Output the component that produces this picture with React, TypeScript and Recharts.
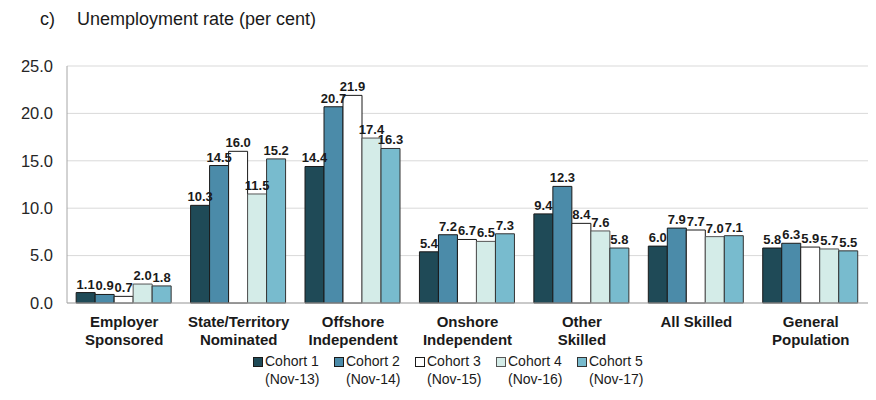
import React from "react";
import { BarChart, Bar, XAxis, YAxis, CartesianGrid, LabelList } from "recharts";

// Unemployment rate (per cent) by visa stream, five cohorts.
const CATEGORIES = [
  "Employer\nSponsored",
  "State/Territory\nNominated",
  "Offshore\nIndependent",
  "Onshore\nIndependent",
  "Other\nSkilled",
  "All Skilled",
  "General\nPopulation",
];

const COHORT_1 = [1.1, 10.3, 14.4, 5.4, 9.4, 6.0, 5.8];
const COHORT_2 = [0.9, 14.5, 20.7, 7.2, 12.3, 7.9, 6.3];
const COHORT_3 = [0.7, 16.0, 21.9, 6.7, 8.4, 7.7, 5.9];
const COHORT_4 = [2.0, 11.5, 17.4, 6.5, 7.6, 7.0, 5.7];
const COHORT_5 = [1.8, 15.2, 16.3, 7.3, 5.8, 7.1, 5.5];

const Y_TICKS = [0, 5, 10, 15, 20, 25];

const SERIES = [
  { key: "c1", name: "Cohort 1", sub: "(Nov-13)", values: COHORT_1, fill: "#1f4a57", stroke: "#1a1a1a" },
  { key: "c2", name: "Cohort 2", sub: "(Nov-14)", values: COHORT_2, fill: "#4b8ba9", stroke: "#1a1a1a" },
  { key: "c3", name: "Cohort 3", sub: "(Nov-15)", values: COHORT_3, fill: "#ffffff", stroke: "#1a1a1a" },
  { key: "c4", name: "Cohort 4", sub: "(Nov-16)", values: COHORT_4, fill: "#d4ece8", stroke: "#555555" },
  { key: "c5", name: "Cohort 5", sub: "(Nov-17)", values: COHORT_5, fill: "#78bbce", stroke: "#333333" },
];

const data = CATEGORIES.map((cat, i) => {
  const row: Record<string, string | number> = { cat };
  for (const s of SERIES) row[s.key] = s.values[i];
  return row;
});

const FONT = "'Liberation Sans', Arial, sans-serif";

function CategoryTick(props: any) {
  const { x, y, payload } = props;
  const lines = String(payload.value).split("\n");
  return (
    <text
      x={x}
      y={y}
      textAnchor="middle"
      fontFamily={FONT}
      fontSize={15}
      fontWeight={700}
      fill="#1a1a1a"
    >
      {lines.map((ln, i) => (
        <tspan key={i} x={x} dy={i === 0 ? 16 : 18}>
          {ln}
        </tspan>
      ))}
    </text>
  );
}

export default function App() {
  return (
    <div
      style={{
        position: "fixed",
        left: 0,
        top: 0,
        width: 876,
        height: 400,
        background: "#fff",
        fontFamily: FONT,
      }}
    >
      <div style={{ position: "absolute", left: 40, top: 9, fontSize: 18, color: "#1a1a1a" }}>
        c)
      </div>
      <div style={{ position: "absolute", left: 77, top: 9, fontSize: 18, color: "#1a1a1a" }}>
        Unemployment rate (per cent)
      </div>

      <BarChart
        width={876}
        height={400}
        data={data}
        margin={{ top: 66, right: 8, bottom: 37, left: 0 }}
        barCategoryGap="8%"
        barGap={0}
      >
        <CartesianGrid vertical={false} stroke="#d9d9d9" />
        <XAxis
          dataKey="cat"
          height={60}
          interval={0}
          tickLine={false}
          axisLine={{ stroke: "#a6a6a6" }}
          tick={<CategoryTick />}
        />
        <YAxis
          width={67}
          domain={[0, 25]}
          ticks={Y_TICKS}
          tickFormatter={(v: number) => v.toFixed(1)}
          tickLine={false}
          tickSize={0}
          tickMargin={14}
          axisLine={{ stroke: "#a6a6a6" }}
          tick={{ fontSize: 16.5, fill: "#262626", fontFamily: FONT }}
        />
        {SERIES.map((s) => (
          <Bar
            key={s.key}
            dataKey={s.key}
            name={s.name}
            fill={s.fill}
            stroke={s.stroke}
            strokeWidth={1}
            isAnimationActive={false}
          >
            <LabelList
              dataKey={s.key}
              position="top"
              offset={4}
              formatter={(v: number) => v.toFixed(1)}
              style={{ fontSize: 13, fontWeight: 700, fill: "#1a1a1a", fontFamily: FONT }}
            />
          </Bar>
        ))}
      </BarChart>

      {SERIES.map((s, i) => (
        <div
          key={s.key}
          style={{
            position: "absolute",
            left: 253 + i * 81,
            top: 352,
            fontSize: 14,
            lineHeight: "18px",
            color: "#1a1a1a",
            display: "flex",
          }}
        >
          <span
            style={{
              width: 8,
              height: 8,
              marginTop: 5,
              marginRight: 2,
              background: s.fill,
              border: `1px solid ${s.stroke}`,
            }}
          />
          <span>
            {s.name}
            <br />
            {s.sub}
          </span>
        </div>
      ))}
    </div>
  );
}
